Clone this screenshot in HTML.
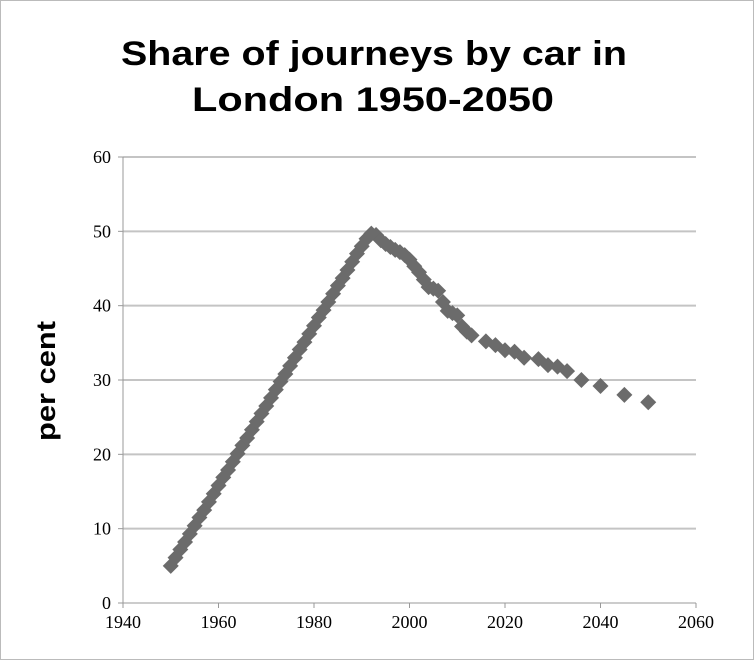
<!DOCTYPE html>
<html><head><meta charset="utf-8"><style>
body{margin:0;background:#fff}
#wrap{position:relative;width:752px;height:658px;border:1px solid #bbb;overflow:hidden}
svg text{font-family:"Liberation Serif",serif}
svg text.s{font-family:"Liberation Sans",sans-serif}
</style></head><body>
<div id="wrap">
<svg id="c" width="752" height="658">
<text class="s" x="373" y="64" text-anchor="middle" font-size="34" font-weight="bold" textLength="506" lengthAdjust="spacingAndGlyphs">Share of journeys by car in</text>
<text class="s" x="372" y="110" text-anchor="middle" font-size="34" font-weight="bold" textLength="362" lengthAdjust="spacingAndGlyphs">London 1950-2050</text>
<text class="s" transform="translate(54,380) rotate(-90)" text-anchor="middle" font-size="27" font-weight="bold" textLength="120" lengthAdjust="spacingAndGlyphs">per cent</text>
</svg></div>
<script>
const years=[1950,1951,1952,1953,1954,1955,1956,1957,1958,1959,1960,1961,1962,1963,1964,1965,1966,1967,1968,1969,1970,1971,1972,1973,1974,1975,1976,1977,1978,1979,1980,1981,1982,1983,1984,1985,1986,1987,1988,1989,1990,1991,1992,
1993,1994,1995,1996,1997,1998,1999,2000,2001,2002,2003,2004,2005,2006,2007,2008,2009,2010,2011,2012,2013,2016,2018,2020,2022,2024,2027,2029,2031,2033,2036,2040,2045,2050];
const shares=[5,6.1,7.2,8.2,9.3,10.4,11.5,12.5,13.6,14.7,15.8,16.9,17.9,19,20.1,21.2,22.2,23.3,24.4,25.5,26.5,27.6,28.7,29.8,30.8,31.9,33,34.1,35.1,36.2,37.3,38.4,39.4,40.5,41.6,42.7,43.7,44.8,45.9,47,48,49,49.7,
49.5,48.8,48.3,47.9,47.5,47.2,46.8,46.2,45.3,44.5,43.5,42.5,42.3,42,40.5,39.3,39,38.7,37.2,36.5,36,35.2,34.7,34,33.8,33,32.8,32,31.8,31.2,30,29.2,28,27];
const xTicks=[1940,1960,1980,2000,2020,2040,2060];
const yTicks=[0,10,20,30,40,50,60];
const svg=document.getElementById('c');const NS='http://www.w3.org/2000/svg';
const X0=122,X1=695,Y0=602,Y1=156;
const xs=v=>X0+(v-1940)/120*(X1-X0);
const ys=v=>Y0-(v/60)*(Y0-Y1);
function mk(t,a){const e=document.createElementNS(NS,t);for(const k in a)e.setAttribute(k,a[k]);svg.appendChild(e);return e;}
yTicks.forEach(v=>{
 if(v>0){const g=mk('line',{x1:X0,x2:X1,y1:ys(v),y2:ys(v),stroke:'#c4c4c4','stroke-width':2});
 
 }
 const tk=mk('line',{x1:X0-5,x2:X0,y1:ys(v),y2:ys(v),stroke:'#999'});
 
 
 const t=mk('text',{x:X0-12,y:ys(v)+6,'text-anchor':'end','font-size':18});t.textContent=v;
 
 
});
xTicks.forEach(v=>{
 const tk=mk('line',{x1:xs(v),x2:xs(v),y1:Y0,y2:Y0+5,stroke:'#999'});
 
 
 const t=mk('text',{x:xs(v),y:Y0+25,'text-anchor':'middle','font-size':18});t.textContent=v;
 
 
});
const ya=mk('line',{x1:X0,x2:X0,y1:Y1,y2:Y0,stroke:'#999'});


const xa=mk('line',{x1:X0,x2:X1,y1:Y0,y2:Y0,stroke:'#999'});


years.forEach((yr,i)=>{
 const cx=xs(yr),cy=ys(shares[i]),r=8;
 const p=mk('polygon',{points:`${cx},${cy-r} ${cx+r},${cy} ${cx},${cy+r} ${cx-r},${cy}`,fill:'#6b6b6b'});
 
 
});
</script>
</body></html>
